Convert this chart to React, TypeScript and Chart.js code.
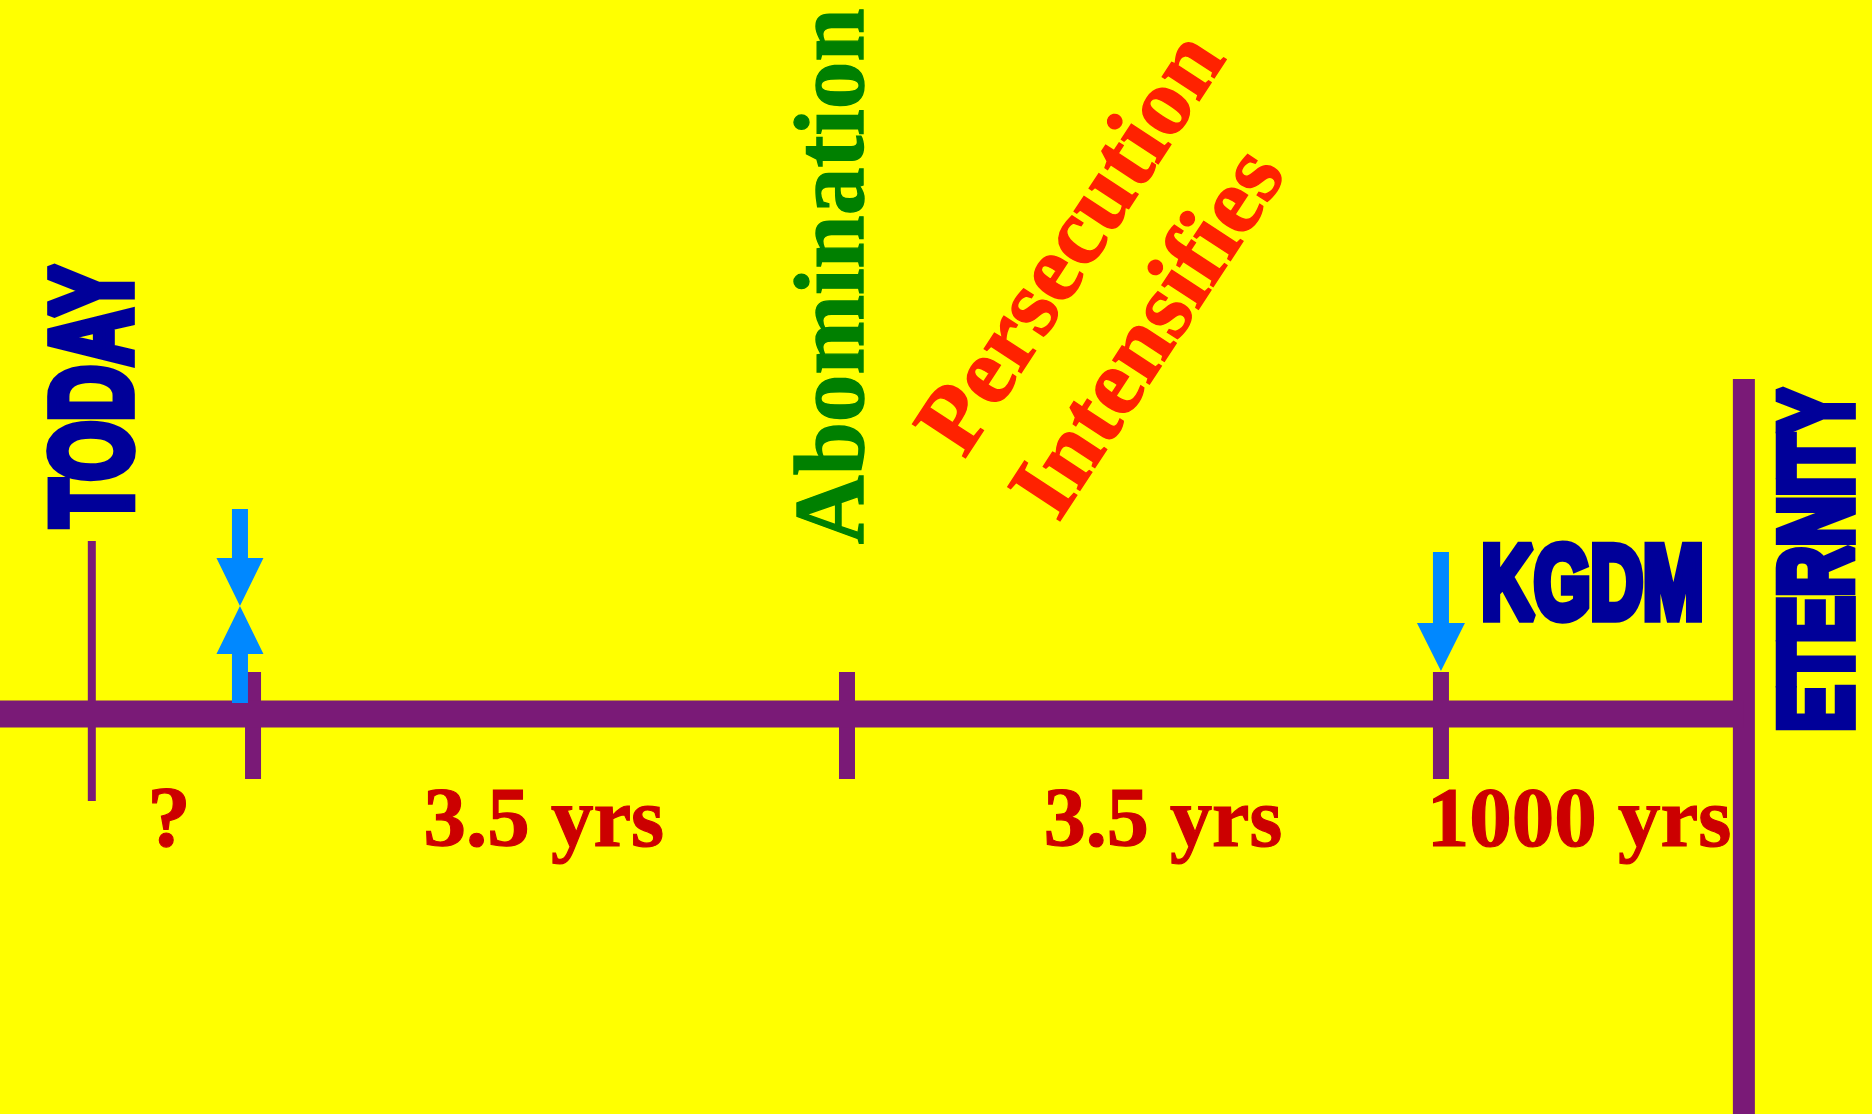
import React, { useEffect, useRef } from 'react';
import { Chart, registerables } from 'chart.js';

Chart.register(...registerables);

// ---------------- data ----------------
// positions on the time line, in years (0 = start of the seven years)
const TICK_YEARS = [0, 3.5, 7];
const TODAY_YEAR = -0.95;
const ETERNITY_YEAR = 8.785;
const PERIOD_LABELS = ['?', '3.5 yrs', '3.5 yrs', '1000 yrs'];
const EVENT_LABELS = ['TODAY', 'Abomination', 'Persecution', 'Intensifies', 'KGDM', 'ETERNITY'];
const ARROW_YEARS = [-0.077, 7];
const ARROW_KINDS = ['pinch', 'down'];

// ---------------- layout & style ----------------
const WIDTH = 1872;
const HEIGHT = 1114;
const X_MIN = -1.491;
const X_MAX = 9.54;
const Y_MIN = -400; // y unit = 1px, time line at 0
const Y_MAX = 714;

const C = {
  bg: '#FFFF00',
  purple: '#7A1A77',
  blue: '#0088FF',
  navy: '#000099',
  green: '#008000',
  orange: '#FF2200',
  red: '#CC0000',
};

const SERIF = "bold 96px 'Liberation Serif', 'Times New Roman', serif";
const LABEL_SERIF = "bold 84px 'Liberation Serif', 'Times New Roman', serif";
const HEAVY = "bold 110px 'Liberation Sans Narrow', 'Liberation Sans', Arial, sans-serif";

// layout of the period labels: left edge (years), baseline level, visual length
const PERIOD_LAYOUT = [
  { x: -0.5952, y: -133, len: 34 },
  { x: 1.0194, y: -133, len: 237 },
  { x: 4.673, y: -133, len: 235 },
  { x: 6.948, y: -133, len: 298 },
];

// layout of the event captions
const EVENT_LAYOUT = [
  { x: -0.7012, y: 184, angle: -90, len: 268, asc: 87, font: HEAVY, color: C.navy, stroke: 8 },
  { x: 3.6005, y: 169, angle: -90, len: 536, asc: 70, font: SERIF, color: C.green, stroke: 1.4 },
  { x: 4.1956, y: 254, angle: -56.8, len: 479, asc: 0, font: SERIF, color: C.orange, stroke: 1.4 },
  { x: 4.7555, y: 192, angle: -56.8, len: 415, asc: 0, font: SERIF, color: C.orange, stroke: 1.4 },
  { x: 7.2422, y: 92, angle: 0, len: 221, asc: 80, font: HEAVY, color: C.navy, stroke: 8 },
  { x: 9.4402, y: -17, angle: -90, len: 346, asc: 79, font: HEAVY, color: C.navy, stroke: 8 },
];

function drawFitted(
  ctx: CanvasRenderingContext2D,
  text: string,
  x: number,
  y: number,
  angleDeg: number,
  font: string,
  color: string,
  len: number,
  asc: number,
  stroke: number
) {
  ctx.save();
  ctx.font = font;
  ctx.textAlign = 'left';
  ctx.textBaseline = 'alphabetic';
  const m = ctx.measureText(text);
  const w = m.actualBoundingBoxLeft + m.actualBoundingBoxRight;
  const a = m.actualBoundingBoxAscent;
  const t = stroke || 0;
  const sx = (len - t) / w;
  const sy = asc ? (asc - t) / a : sx;
  ctx.translate(x, y);
  ctx.rotate((angleDeg * Math.PI) / 180);
  ctx.translate(t / 2 + m.actualBoundingBoxLeft * sx, -t / 2);
  ctx.scale(sx, sy);
  ctx.fillStyle = color;
  ctx.fillText(text, 0, 0);
  if (t) {
    ctx.strokeStyle = color;
    ctx.lineJoin = 'miter';
    ctx.miterLimit = 2;
    ctx.lineWidth = t / Math.sqrt(sx * sy);
    ctx.strokeText(text, 0, 0);
  }
  ctx.restore();
}

function drawArrow(
  ctx: CanvasRenderingContext2D,
  cx: number,
  yTail: number,
  yBase: number,
  yTip: number,
  shaftW: number,
  headW: number
) {
  ctx.beginPath();
  ctx.moveTo(cx - shaftW / 2, yTail);
  ctx.lineTo(cx + shaftW / 2, yTail);
  ctx.lineTo(cx + shaftW / 2, yBase);
  ctx.lineTo(cx + headW / 2, yBase);
  ctx.lineTo(cx, yTip);
  ctx.lineTo(cx - headW / 2, yBase);
  ctx.lineTo(cx - shaftW / 2, yBase);
  ctx.closePath();
  ctx.fill();
}

const backgroundPlugin = {
  id: 'bg',
  beforeDraw(chart: any) {
    const ctx = chart.ctx;
    ctx.save();
    ctx.fillStyle = C.bg;
    ctx.fillRect(0, 0, chart.width, chart.height);
    ctx.restore();
  },
};

const annotationPlugin = {
  id: 'timelineAnnotations',
  afterDatasetsDraw(chart: any) {
    const ctx: CanvasRenderingContext2D = chart.ctx;
    const xs = chart.scales.x;
    const ys = chart.scales.y;
    const px = (v: number) => xs.getPixelForValue(v);
    const py = (v: number) => ys.getPixelForValue(v);

    // arrows
    ctx.save();
    ctx.fillStyle = C.blue;
    ARROW_YEARS.forEach((yr, i) => {
      const cx = px(yr);
      if (ARROW_KINDS[i] === 'pinch') {
        drawArrow(ctx, cx, py(205), py(156), py(108), 16, 47);
        drawArrow(ctx, cx, py(11), py(60), py(108), 16, 47);
      } else {
        drawArrow(ctx, cx, py(162), py(91), py(43), 16, 48);
      }
    });
    ctx.restore();

    // period labels
    PERIOD_LABELS.forEach((label, i) => {
      const l = PERIOD_LAYOUT[i];
      drawFitted(ctx, label, px(l.x), py(l.y), 0, LABEL_SERIF, C.red, l.len, 0, 1.2);
    });

    // event captions
    EVENT_LABELS.forEach((label, i) => {
      const l = EVENT_LAYOUT[i];
      drawFitted(ctx, label, px(l.x), py(l.y), l.angle, l.font, l.color, l.len, l.asc, l.stroke);
    });
  },
};

function seg(x1: number, y1: number, x2: number, y2: number, width: number) {
  return {
    data: [
      { x: x1, y: y1 },
      { x: x2, y: y2 },
    ],
    showLine: true,
    borderColor: C.purple,
    backgroundColor: C.purple,
    borderWidth: width,
    borderCapStyle: 'butt',
    pointRadius: 0,
    pointHoverRadius: 0,
    tension: 0,
  };
}

export default function App() {
  const ref = useRef<HTMLCanvasElement | null>(null);

  useEffect(() => {
    if (!ref.current) return;
    const datasets: any[] = [
      seg(X_MIN, 0, ETERNITY_YEAR, 0, 27),
      seg(ETERNITY_YEAR, 335, ETERNITY_YEAR, Y_MIN, 22),
      seg(TODAY_YEAR, 173, TODAY_YEAR, -87, 8),
      ...TICK_YEARS.map((t) => seg(t, 42, t, -65, 16)),
    ];
    const chart = new Chart(ref.current, {
      type: 'scatter',
      data: { datasets },
      options: {
        responsive: false,
        animation: false,
        events: [],
        layout: { padding: 0 },
        plugins: { legend: { display: false }, tooltip: { enabled: false } },
        scales: {
          x: { type: 'linear', min: X_MIN, max: X_MAX, display: false },
          y: { type: 'linear', min: Y_MIN, max: Y_MAX, display: false },
        },
      },
      plugins: [backgroundPlugin, annotationPlugin],
    } as any);
    return () => chart.destroy();
  }, []);

  return (
    <div
      style={{
        position: 'fixed',
        left: 0,
        top: 0,
        width: WIDTH,
        height: HEIGHT,
        background: C.bg,
        overflow: 'hidden',
      }}
    >
      <canvas ref={ref} width={WIDTH} height={HEIGHT} style={{ display: 'block', width: WIDTH, height: HEIGHT }} />
    </div>
  );
}
